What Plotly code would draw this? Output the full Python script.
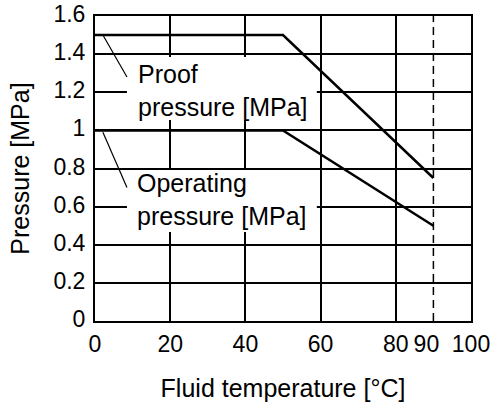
import plotly.graph_objects as go

# ---- data ----
temp_points = [0, 50, 90]
proof_pressure = [1.5, 1.5, 0.75]
operating_pressure = [1.0, 1.0, 0.5]
max_temp = 90
y_tickvals = [0, 0.2, 0.4, 0.6, 0.8, 1.0, 1.2, 1.4, 1.6]
y_ticktext = ["0", "0.2", "0.4", "0.6", "0.8", "1", "1.2", "1.4", "1.6"]
x_tickvals = [0, 20, 40, 60, 80, 100]
x_ticktext = ["0", "20", "40", "60", "80", "100"]
proof_label = "Proof<br>pressure [MPa]"
operating_label = "Operating<br>pressure [MPa]"

FONT = "Liberation Sans, Arial, sans-serif"

fig = go.Figure()
fig.add_trace(go.Scatter(x=temp_points, y=proof_pressure, mode="lines",
                         line=dict(color="black", width=2.5), showlegend=False))
fig.add_trace(go.Scatter(x=temp_points, y=operating_pressure, mode="lines",
                         line=dict(color="black", width=2.5), showlegend=False))
fig.add_trace(go.Scatter(x=[max_temp, max_temp], y=[0, y_tickvals[-1]], mode="lines",
                         xaxis="x2",
                         line=dict(color="black", width=1.5, dash="8px,5px"), showlegend=False))

# label backgrounds (cover gridlines) and callout lines
for (y0, y1) in [(1.054, 1.385), (0.467, 0.792)]:
    fig.add_shape(type="rect", xref="x", yref="y", x0=8.5, x1=59, y0=y0, y1=y1,
                  fillcolor="white", line=dict(width=0), layer="between")
fig.add_shape(type="line", xref="x", yref="y", x0=2.1, y0=1.5, x1=8.5, y1=1.28,
              line=dict(color="black", width=1.2))
fig.add_shape(type="line", xref="x", yref="y", x0=2.1, y0=0.99, x1=8.5, y1=0.70,
              line=dict(color="black", width=1.2))

fig.add_annotation(x=10.9, y=1.21, xref="x", yref="y", text=proof_label,
                   showarrow=False, xanchor="left", yanchor="middle", align="left",
                   font=dict(family=FONT, size=25, color="black"))
fig.add_annotation(x=10.7, y=0.635, xref="x", yref="y", text=operating_label,
                   showarrow=False, xanchor="left", yanchor="middle", align="left",
                   font=dict(family=FONT, size=25, color="black"))

axis_common = dict(showline=True, linecolor="black", linewidth=2, mirror=True,
                   gridcolor="black", gridwidth=1.5, zeroline=False,
                   tickfont=dict(family=FONT, size=23, color="black"),
                   ticks="", automargin=False, ticklabeloverflow="allow")

fig.update_layout(
    width=498, height=408,
    margin=dict(l=95, r=27, t=16, b=87),
    paper_bgcolor="white", plot_bgcolor="white",
    xaxis=dict(range=[0, 100], tickvals=x_tickvals, ticktext=x_ticktext,
               ticklabelstandoff=1,
               title=dict(text="Fluid temperature [°C]",
                          font=dict(family=FONT, size=25, color="black"), standoff=24),
               **axis_common),
    xaxis2=dict(range=[0, 100], overlaying="x", side="bottom", anchor="y",
                tickvals=[max_temp], ticktext=[str(max_temp)], showgrid=False,
                showline=True, linecolor="black", linewidth=2,
                zeroline=False, ticks="", automargin=False,
                ticklabelstandoff=1, ticklabelshift=-7, ticklabeloverflow="allow",
                tickfont=dict(family=FONT, size=23, color="black")),
    yaxis=dict(range=[0, 1.6], tickvals=y_tickvals, ticktext=y_ticktext,
               ticklabelstandoff=3, ticklabelshift=-2,
               title=dict(text="Pressure [MPa]",
                          font=dict(family=FONT, size=25, color="black"), standoff=17),
               **axis_common),
)

fig.write_html("out.html", config={"displayModeBar": False},
               post_script="document.body.style.margin='0';document.body.style.overflow='hidden';")
